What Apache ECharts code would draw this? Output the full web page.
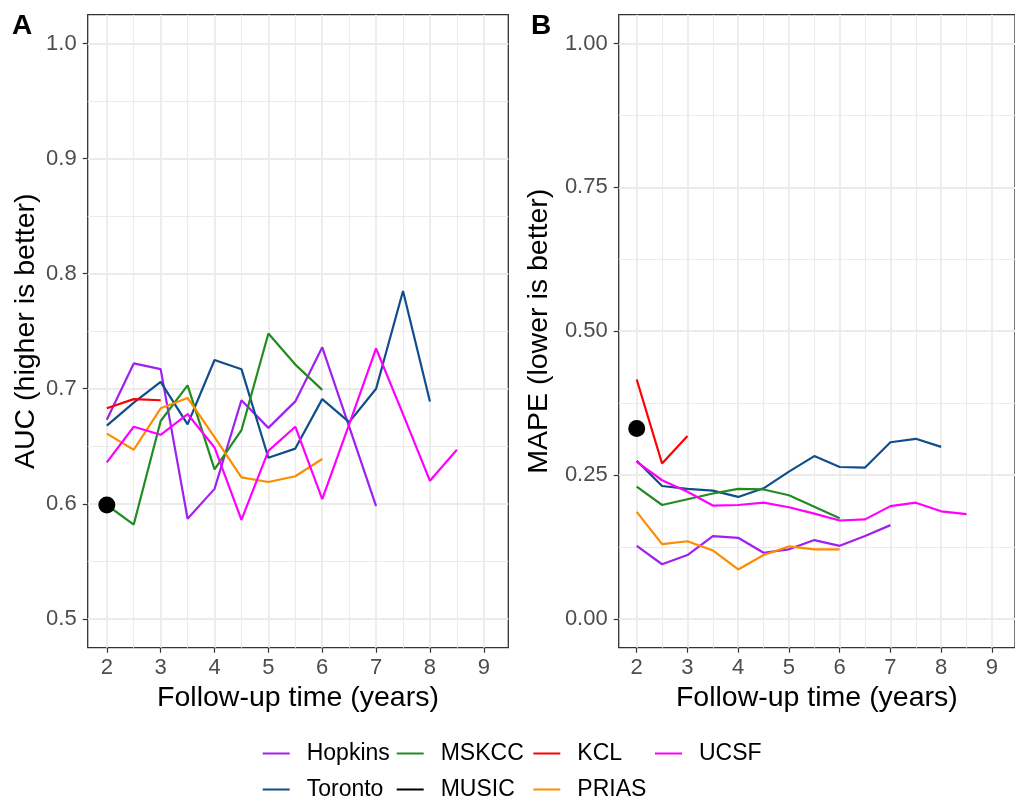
<!DOCTYPE html>
<html>
<head>
<meta charset="utf-8">
<script src="https://cdn.jsdelivr.net/npm/echarts@6/dist/echarts.min.js"></script>
<style>html,body{margin:0;padding:0;background:#fff}#c{width:1015px;height:798px}</style>
</head>
<body>
<div id="c"></div>
<script>
// ---- data ----
const years = [2, 2.5, 3, 3.5, 4, 4.5, 5, 5.5, 6, 6.5, 7, 7.5, 8, 8.5];
const xTicks = [2, 3, 4, 5, 6, 7, 8, 9];
const xMinorTicks = [2.5, 3.5, 4.5, 5.5, 6.5, 7.5, 8.5];
const aucTicks = [0.5, 0.6, 0.7, 0.8, 0.9, 1.0];
const aucMinorTicks = [0.55, 0.65, 0.75, 0.85, 0.95];
const mapeTicks = [0, 0.25, 0.5, 0.75, 1.0];
const mapeMinorTicks = [0.125, 0.375, 0.625, 0.875];

const cohorts = ['Hopkins', 'Toronto', 'MSKCC', 'MUSIC', 'KCL', 'PRIAS', 'UCSF'];
const cohortColors = ['#A020F0', '#104E8B', '#228B22', '#000000', '#FF0000', '#FF8C00', '#FF00FF'];

// AUC (panel A), aligned with years
const aucHopkins = [0.673, 0.722, 0.717, 0.587, 0.613, 0.690, 0.666, 0.689, 0.736, 0.667, 0.598];
const aucToronto = [0.668, 0.688, 0.706, 0.669, 0.725, 0.717, 0.640, 0.648, 0.691, 0.671, 0.700, 0.785, 0.689];
const aucMSKCC   = [0.599, 0.582, 0.672, 0.703, 0.630, 0.664, 0.748, 0.721, 0.699];
const aucMUSIC   = [0.599];
const aucKCL     = [0.683, 0.691, 0.690];
const aucPRIAS   = [0.661, 0.647, 0.683, 0.692, 0.658, 0.623, 0.619, 0.624, 0.639];
const aucUCSF    = [0.636, 0.667, 0.660, 0.678, 0.649, 0.586, 0.646, 0.667, 0.604, 0.669, 0.735, 0.678, 0.620, 0.647];

// MAPE (panel B), aligned with years
const mapeHopkins = [0.127, 0.095, 0.111, 0.144, 0.141, 0.115, 0.121, 0.137, 0.127, 0.144, 0.163];
const mapeToronto = [0.275, 0.231, 0.226, 0.223, 0.212, 0.227, 0.256, 0.283, 0.264, 0.263, 0.307, 0.313, 0.299];
const mapeMSKCC   = [0.230, 0.198, 0.208, 0.218, 0.226, 0.225, 0.215, 0.195, 0.175];
const mapeMUSIC   = [0.331];
const mapeKCL     = [0.416, 0.270, 0.318];
const mapePRIAS   = [0.186, 0.130, 0.135, 0.119, 0.086, 0.111, 0.126, 0.121, 0.121];
const mapeUCSF    = [0.273, 0.241, 0.221, 0.197, 0.198, 0.202, 0.194, 0.183, 0.171, 0.173, 0.196, 0.202, 0.187, 0.182];

const aucSeries  = [aucHopkins, aucToronto, aucMSKCC, aucMUSIC, aucKCL, aucPRIAS, aucUCSF];
const mapeSeries = [mapeHopkins, mapeToronto, mapeMSKCC, mapeMUSIC, mapeKCL, mapePRIAS, mapeUCSF];

// ---- chart ----
const FONT = 'Liberation Sans, Arial, sans-serif';
const XMIN = 1.645, XMAX = 9.455;
const chart = echarts.init(document.getElementById('c'), null, {renderer: 'canvas'});

function pairs(arr) { return arr.map((v, i) => [years[i], v]); }

function xMajor(gi) {
  return {
    type: 'value', gridIndex: gi, min: XMIN, max: XMAX, position: 'bottom',
    axisLine: {show: false, onZero: false},
    axisTick: {show: true, length: 5, customValues: xTicks, lineStyle: {color: '#333333', width: 1.2}},
    axisLabel: {customValues: xTicks, fontSize: 22, color: '#4D4D4D', margin: 9, fontFamily: FONT},
    splitLine: {show: true, lineStyle: {color: '#EBEBEB', width: 1.8}},
    name: 'Follow-up time (years)', nameLocation: 'middle', nameGap: 34,
    nameTextStyle: {fontSize: 28.5, color: '#000', fontFamily: FONT}
  };
}
function xMinor(gi) {
  return {
    type: 'value', gridIndex: gi, min: XMIN, max: XMAX, position: 'bottom',
    axisLine: {show: false, onZero: false},
    axisTick: {show: false, customValues: xMinorTicks},
    axisLabel: {show: false, customValues: xMinorTicks},
    splitLine: {show: true, lineStyle: {color: '#EBEBEB', width: 1.1}}
  };
}
function yMajor(gi, min, max, ticks, name, gap, fmt) {
  return {
    type: 'value', gridIndex: gi, min: min, max: max,
    axisLine: {show: false, onZero: false},
    axisTick: {show: true, length: 5, customValues: ticks, lineStyle: {color: '#333333', width: 1.2}},
    axisLabel: {customValues: ticks, fontSize: 22, color: '#4D4D4D', margin: 11, fontFamily: FONT, formatter: fmt},
    splitLine: {show: true, lineStyle: {color: '#EBEBEB', width: 1.8}},
    name: name, nameLocation: 'middle', nameGap: gap,
    nameTextStyle: {fontSize: 28.5, color: '#000', fontFamily: FONT}
  };
}
function yMinor(gi, min, max, ticks) {
  return {
    type: 'value', gridIndex: gi, min: min, max: max,
    axisLine: {show: false, onZero: false},
    axisTick: {show: false, customValues: ticks},
    axisLabel: {show: false, customValues: ticks},
    splitLine: {show: true, lineStyle: {color: '#EBEBEB', width: 1.1}}
  };
}

const series = [];
function addPanel(dataList, xi, yi) {
  cohorts.forEach((name, k) => {
    if (name === 'MUSIC') return;
    series.push({
      name: name, type: 'line', xAxisIndex: xi, yAxisIndex: yi,
      data: pairs(dataList[k]), symbol: 'none', color: cohortColors[k],
      lineStyle: {width: 2.2, color: cohortColors[k]}, z: 3, silent: true, animation: false
    });
  });
  const m = cohorts.indexOf('MUSIC');
  series.push({
    name: 'MUSIC', type: 'scatter', xAxisIndex: xi, yAxisIndex: yi,
    data: pairs(dataList[m]), symbol: 'circle', symbolSize: 17, color: '#000',
    itemStyle: {color: '#000', opacity: 1}, z: 4, silent: true, animation: false
  });
}
addPanel(aucSeries, 0, 0);
addPanel(mapeSeries, 1, 1);

function legendCol(names, left) {
  return {
    show: true, orient: 'vertical', left: left, top: 742, height: 90,
    data: names.map(n => ({name: n, icon: 'rect'})),
    itemWidth: 27, itemHeight: 2, itemGap: 13, padding: 0, selectedMode: false,
    itemStyle: {borderWidth: 0},
    textStyle: {fontSize: 23, color: '#000', fontFamily: FONT, lineHeight: 23, padding: [0, 0, 0, 12]}
  };
}

const option = {
  animation: false,
  backgroundColor: '#fff',
  textStyle: {fontFamily: FONT},
  title: [
    {text: 'A', left: 12, top: 12, padding: 0, textStyle: {fontSize: 28, fontWeight: 'bold', color: '#000', fontFamily: FONT}},
    {text: 'B', left: 531, top: 12, padding: 0, textStyle: {fontSize: 28, fontWeight: 'bold', color: '#000', fontFamily: FONT}}
  ],
  grid: [
    {left: 87.7, top: 14.7, width: 420.6, height: 633, show: true, borderColor: '#333333', borderWidth: 1.3, backgroundColor: '#fff'},
    {left: 618.7, top: 14.7, width: 407, height: 633, show: true, borderColor: '#333333', borderWidth: 1.3, backgroundColor: '#fff'}
  ],
  xAxis: [xMajor(0), xMajor(1), xMinor(0), xMinor(1)],
  yAxis: [
    yMajor(0, 0.475, 1.025, aucTicks, 'AUC (higher is better)', 47, v => v.toFixed(1)),
    yMajor(1, -0.05, 1.05, mapeTicks, 'MAPE (lower is better)', 65, v => v.toFixed(2)),
    yMinor(0, 0.475, 1.025, aucMinorTicks),
    yMinor(1, -0.05, 1.05, mapeMinorTicks)
  ],
  legend: [
    legendCol(['Hopkins', 'Toronto'], 262.7),
    legendCol(['MSKCC', 'MUSIC'], 396.7),
    legendCol(['KCL', 'PRIAS'], 533.3),
    legendCol(['UCSF'], 655)
  ],
  series: series
};
chart.setOption(option);
</script>
</body>
</html>
